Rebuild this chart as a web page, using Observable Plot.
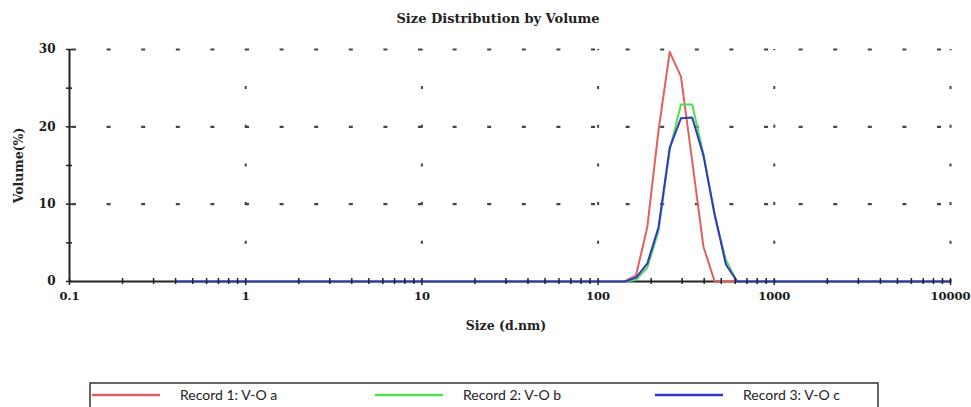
<!DOCTYPE html>
<html>
<head>
<meta charset="utf-8">
<script src="https://cdn.jsdelivr.net/npm/d3@7"></script>
<script src="https://cdn.jsdelivr.net/npm/@observablehq/plot@0.6"></script>
<style>
  html, body { margin: 0; padding: 0; background: #fff; }
  #chart { width: 971px; height: 407px; overflow: hidden; }
</style>
</head>
<body>
<div id="chart"></div>
<script>
// Size classes (d.nm)
const sizes = [0.4, 0.4632, 0.5365, 0.6213, 0.7195, 0.8332, 0.9649, 1.117, 1.294, 1.499,
  1.736, 2.010, 2.328, 2.696, 3.122, 3.615, 4.187, 4.849, 5.615, 6.503,
  7.531, 8.721, 10.10, 11.70, 13.54, 15.69, 18.17, 21.04, 24.36, 28.21,
  32.67, 37.84, 43.82, 50.75, 58.77, 68.06, 78.82, 91.28, 105.7, 122.4,
  141.8, 164.2, 190.1, 220.2, 255.0, 295.3, 342.0, 396.1, 458.7, 531.2,
  615.1, 712.4, 825.0, 955.4, 1106, 1281, 1484, 1718, 1990, 2305,
  2669, 3091, 3580, 4145, 4801, 5560, 6439, 7456, 8635, 10000];

// Volume (%) per size class
const record1 = [0,0,0,0,0,0,0,0,0,0, 0,0,0,0,0,0,0,0,0,0, 0,0,0,0,0,0,0,0,0,0,
  0,0,0,0,0,0,0,0,0,0, 0,0.8,7.0,19.5,29.7,26.5,15.6,4.5,0,0,
  0,0,0,0,0,0,0,0,0,0, 0,0,0,0,0,0,0,0,0,0];
const record2 = [0,0,0,0,0,0,0,0,0,0, 0,0,0,0,0,0,0,0,0,0, 0,0,0,0,0,0,0,0,0,0,
  0,0,0,0,0,0,0,0,0,0, 0,0.2,1.8,6.5,17.0,22.9,22.9,16.5,8.5,2.8,
  0,0,0,0,0,0,0,0,0,0, 0,0,0,0,0,0,0,0,0,0];
const record3 = [0,0,0,0,0,0,0,0,0,0, 0,0,0,0,0,0,0,0,0,0, 0,0,0,0,0,0,0,0,0,0,
  0,0,0,0,0,0,0,0,0,0, 0,0.5,2.3,7.0,17.3,21.1,21.2,16.3,8.7,2.2,
  0,0,0,0,0,0,0,0,0,0, 0,0,0,0,0,0,0,0,0,0];

const seriesNames = ["Record 1: V-O a", "Record 2: V-O b", "Record 3: V-O c"];
const seriesColors = ["#e0605f", "#4ee04e", "#3636c4"];

const xMajorTicks = [0.1, 1, 10, 100, 1000, 10000];
const xTickLabels = ["0.1", "1", "10", "100", "1000", "10000"];
const xMinorTicks = [0.2,0.3,0.4,0.5,0.6,0.7,0.8,0.9, 2,3,4,5,6,7,8,9, 20,30,40,50,60,70,80,90,
  200,300,400,500,600,700,800,900, 2000,3000,4000,5000,6000,7000,8000,9000];
const yTicks = [0, 5, 10, 15, 20, 25, 30];
const yTickLabels = [0, 10, 20, 30];
const hGrid = [10, 20, 30];
const vGrid = [1, 10, 100, 1000, 10000];

const title = "Size Distribution by Volume";
const xLabel = "Size (d.nm)";
const yLabel = "Volume(%)";

const rows = [];
[record1, record2, record3].forEach((vals, s) => {
  vals.forEach((v, i) => rows.push({series: seriesNames[s], size: sizes[i], volume: v}));
});

const serif = "'DejaVu Serif', 'Liberation Serif', serif";
const xLabelOf = d => xTickLabels[xMajorTicks.indexOf(d)] ?? "";

const chart = Plot.plot({
  width: 971,
  height: 407,
  marginTop: 49,
  marginBottom: 126,
  marginLeft: 69,
  marginRight: 21,
  x: {type: "log", domain: [0.1, 10000]},
  y: {domain: [0, 30]},
  color: {domain: seriesNames, range: seriesColors},
  style: {fontFamily: serif, fontWeight: "bold", fontSize: "11.5px", background: "#fff", color: "#1a1a1a", overflow: "visible"},
  marks: [
    Plot.ruleY(hGrid, {x1: 0.1, x2: 10000, stroke: "#444", strokeWidth: 2.2, strokeDasharray: "4,30.6", strokeDashoffset: -3}),
    Plot.ruleX(vGrid, {y1: 0, y2: 30, stroke: "#444", strokeWidth: 2, strokeDasharray: "3,35.7", strokeDashoffset: 1.5}),
    Plot.ruleY([0], {x1: 0.1, x2: 10000, stroke: "#222", strokeWidth: 2}),
    Plot.ruleX([0.1], {y1: 0, y2: 30, stroke: "#222", strokeWidth: 2}),
    Plot.line(rows, {x: "size", y: "volume", z: "series", stroke: "series", strokeWidth: 2, curve: "linear"}),
    Plot.axisX({ticks: xMinorTicks, tickSize: 6, dy: -3, tickFormat: () => "", label: null, stroke: "#222", strokeWidth: 1.5}),
    Plot.axisX({ticks: xMajorTicks, tickSize: 7, dy: -3, tickFormat: () => "", label: null, stroke: "#222", strokeWidth: 1.5}),
    Plot.axisX({ticks: xMajorTicks, tickSize: 0, tickPadding: 10, tickFormat: xLabelOf, label: null, fontWeight: "bold", fontSize: 11.5}),
    Plot.axisY({ticks: yTicks, tickSize: 6, dx: 3, tickFormat: () => "", label: null, stroke: "#222", strokeWidth: 1.5}),
    Plot.axisY({ticks: yTickLabels, tickSize: 0, tickPadding: 14, label: null, fontWeight: "bold", fontSize: 12}),
    Plot.text([title], {frameAnchor: "top", dy: -31, dx: -12, lineAnchor: "middle", fontSize: 13, fontWeight: "bold", fill: "#222"}),
    Plot.text([xLabel], {frameAnchor: "bottom", dy: 44, dx: -4, lineAnchor: "middle", fontSize: 12.5, fontWeight: "bold", fill: "#222"}),
    Plot.text([yLabel], {frameAnchor: "left", dx: -51, rotate: -90, textAnchor: "middle", fontSize: 12.5, fontWeight: "bold", fill: "#222"})
  ]
});

document.getElementById("chart").appendChild(chart);

// Legend box below the plot
const svg = d3.select(chart);
const lg = svg.append("g").attr("class", "legend");
lg.append("rect").attr("x", 90).attr("y", 383).attr("width", 788).attr("height", 40)
  .attr("fill", "none").attr("stroke", "#333").attr("stroke-width", 1.5);
const legendX = [92, 375, 655];
seriesNames.forEach((name, i) => {
  const x0 = legendX[i];
  lg.append("line").attr("x1", x0).attr("x2", x0 + 68).attr("y1", 395).attr("y2", 395)
    .attr("stroke", seriesColors[i]).attr("stroke-width", 2.5);
  lg.append("text").attr("x", x0 + 88).attr("y", 399.5)
    .attr("text-anchor", "start")
    .attr("font-family", "Lato, 'Liberation Sans', sans-serif")
    .attr("font-size", 14).attr("font-weight", "normal").attr("fill", "#222")
    .text(name);
});
</script>
</body>
</html>
